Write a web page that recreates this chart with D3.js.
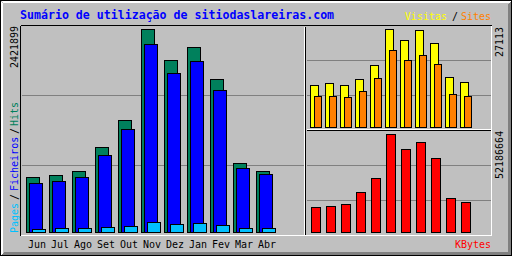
<!DOCTYPE html>
<html>
<head>
<meta charset="utf-8">
<script src="https://cdn.jsdelivr.net/npm/d3@7"></script>
<style>
  body { margin: 0; background: #c0c0c0; }
  svg { display: block; }
  text { font-family: "DejaVu Sans Mono", "Liberation Mono", monospace; }
</style>
</head>
<body>
<svg width="512" height="256"></svg>
<script>
var months = ["Jun", "Jul", "Ago", "Set", "Out", "Nov", "Dez", "Jan", "Fev", "Mar", "Abr"];
var hits   = [656000, 680000, 728000, 1014000, 1336000, 2421899, 2052000, 2207000, 1825000, 823000, 728000];
var files  = [585000, 608000, 656000, 919000, 1229000, 2243000, 1897000, 2040000, 1694000, 764000, 692000];
var pages  = [36000, 48000, 48000, 60000, 72000, 119000, 95000, 107000, 84000, 48000, 48000];
var visits = [11620, 12175, 11620, 13281, 17155, 27113, 24072, 26840, 23242, 13835, 12451];
var sites  = [8578, 8578, 8301, 9961, 13558, 21306, 18538, 19922, 17432, 9131, 8578];
var kbytes = [13310000, 13850000, 14910000, 21300000, 28760000, 52186664, 44200000, 47930000, 39410000, 18110000, 15980000];

var title = "Sumário de utilização de sitiodaslareiras.com";

var grey = "#c0c0c0", dkgrey = "#808080", white = "#ffffff", black = "#000000";
var hitColor = "#00805c", fileColor = "#0000ff", pageColor = "#00c0ff",
    visitColor = "#ffff00", siteColor = "#ff8000", kbyteColor = "#ff0000";

var svg = d3.select("svg").attr("shape-rendering", "crispEdges"),
    g = svg.append("g");

// pixel line helper (gd style, inclusive pixel coords)
function line(x1, y1, x2, y2, color) {
  g.append("line")
      .attr("x1", x1 + 0.5).attr("y1", y1 + 0.5)
      .attr("x2", x2 + 0.5).attr("y2", y2 + 0.5)
      .attr("stroke", color)
      .attr("stroke-width", 1);
}

// background and bevel
g.append("rect").attr("width", 512).attr("height", 256).attr("fill", grey);
for (var i = 1; i < 3; i++) {
  line(i, i, 511 - i, i, white);
  line(i, i, i, 255 - i, white);
  line(i, 255 - i, 511 - i, 255 - i, dkgrey);
  line(511 - i, i, 511 - i, 255 - i, dkgrey);
}
line(3, 252, 508, 252, dkgrey);
line(508, 3, 508, 252, dkgrey);
g.append("rect")
    .attr("x", 0.5).attr("y", 0.5)
    .attr("width", 511).attr("height", 255)
    .attr("fill", "none").attr("stroke", black);

// grid lines
for (i = 1; i < 3; i++) {
  line(21, 25 + i * 70, 304, 25 + i * 70, dkgrey);
  line(306, 25 + i * 35, 490, 25 + i * 35, dkgrey);
  line(306, 130 + i * 35, 490, 130 + i * 35, dkgrey);
}

// inset frame and section lines
line(20, 25, 491, 25, black);
line(20, 25, 20, 235, black);
line(20, 235, 491, 235, white);
line(491, 25, 491, 235, white);
line(304, 26, 304, 234, white);
line(305, 26, 305, 234, black);
line(306, 129, 490, 129, white);
line(306, 130, 490, 130, black);

// scales
var xMain = d3.scaleLinear().domain([0, 1]).range([26, 49]);
var yMain = d3.scaleLinear().domain([0, d3.max(hits)]).range([232, 29]);
var xSide = d3.scaleLinear().domain([0, 1]).range([310, 325]);
var yVisit = d3.scaleLinear().domain([0, d3.max(visits)]).range([127, 29]);
var yKbyte = d3.scaleLinear().domain([0, d3.max(kbytes)]).range([232, 134]);

function bars(values, xs, offset, w, ys, color) {
  g.append("g").selectAll("rect")
    .data(values)
    .enter().append("rect")
      .attr("x", function(d, i) { return Math.round(xs(i)) + offset + 0.5; })
      .attr("y", function(d) { return Math.round(ys(d)) + 0.5; })
      .attr("width", w)
      .attr("height", function(d) { return Math.round(ys(0)) - Math.round(ys(d)); })
      .attr("fill", color)
      .attr("stroke", black)
      .attr("stroke-width", 1);
}

bars(hits, xMain, 0, 13, yMain, hitColor);
bars(files, xMain, 3, 13, yMain, fileColor);
bars(pages, xMain, 6, 13, yMain, pageColor);
bars(visits, xSide, 0, 8, yVisit, visitColor);
bars(sites, xSide, 4, 7, yVisit, siteColor);
bars(kbytes, xSide, 1, 9, yKbyte, kbyteColor);

// title
g.append("text")
    .attr("x", 20).attr("y", 19)
    .attr("font-size", "11.6px")
    .attr("font-weight", "bold")
    .attr("fill", "#0000ff")
    .text(title);

// month labels
g.append("g").selectAll("text")
  .data(months)
  .enter().append("text")
    .attr("x", function(d, i) { return xMain(i) + 2; })
    .attr("y", 248)
    .attr("font-size", "10px")
    .attr("fill", black)
    .text(function(d) { return d; });

function label(x, y, s, color, anchor) {
  g.append("text")
      .attr("x", x).attr("y", y)
      .attr("font-size", "10px")
      .attr("text-anchor", anchor || "start")
      .attr("fill", color)
      .text(s);
}
function labelUp(x, y, s, color) {
  g.append("text")
      .attr("transform", "translate(" + x + "," + y + ") rotate(-90)")
      .attr("font-size", "10px")
      .attr("fill", color)
      .text(s);
}

label(491, 248, "KBytes", kbyteColor, "end");
label(491, 20, "Sites", siteColor, "end");
label(452, 20, "/", black);
label(447, 20, "Visitas", visitColor, "end");

labelUp(18, 68, String(d3.max(hits)), black);
labelUp(18, 233, "Pages", pageColor);
labelUp(18, 200, "/", black);
labelUp(18, 191, "Ficheiros", fileColor);
labelUp(18, 134, "/", black);
labelUp(18, 126, "Hits", hitColor);

labelUp(503, 57, String(d3.max(visits)), black);
labelUp(503, 179, String(d3.max(kbytes)), black);
</script>
</body>
</html>
